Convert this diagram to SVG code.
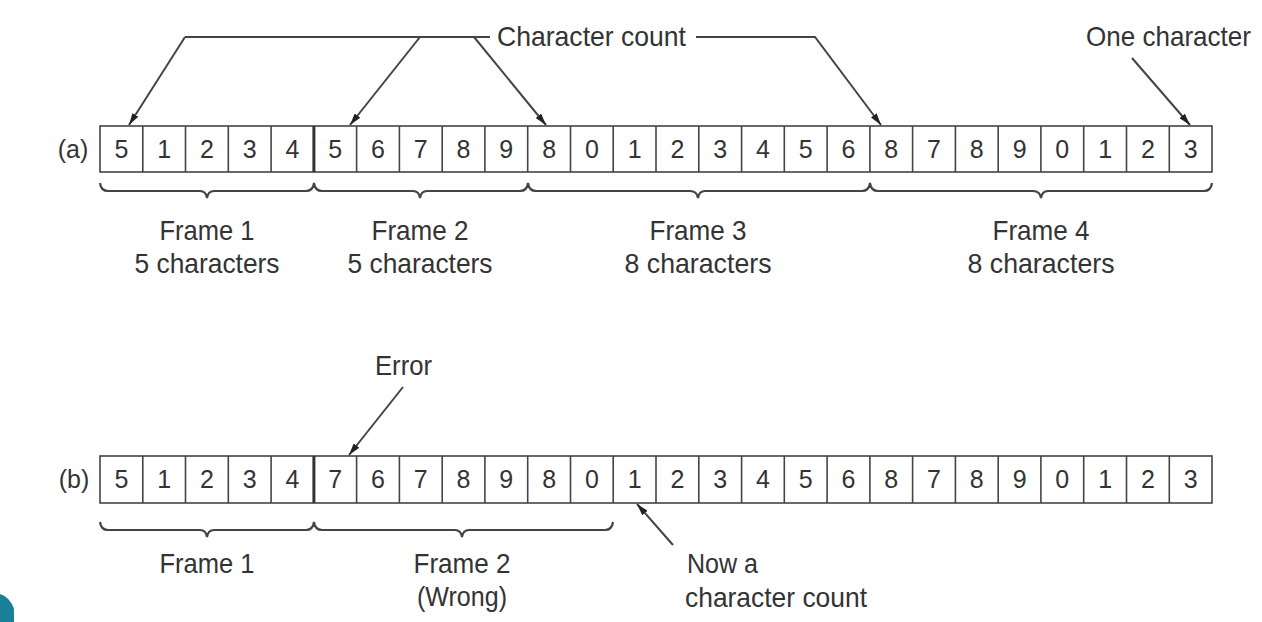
<svg xmlns="http://www.w3.org/2000/svg" width="1262" height="622" viewBox="0 0 1262 622">
<style>
.cell{fill:#fff;stroke:#444;stroke-width:1.6}
.sep{stroke:#444;stroke-width:1.6}
.thick{stroke:#333;stroke-width:3}
.dg{font-family:"Liberation Sans",Arial,sans-serif;font-size:25px;fill:#333;text-anchor:middle}
.lb{font-family:"Liberation Sans",Arial,sans-serif;font-size:28px;fill:#333}
.mid{text-anchor:middle}
.ln{fill:none;stroke:#444;stroke-width:2}
.br{fill:none;stroke:#444;stroke-width:2.2}
</style>
<defs>
<marker id="ah" markerUnits="userSpaceOnUse" markerWidth="13" markerHeight="7" refX="12" refY="3.5" orient="auto">
<path d="M0,0 L12,3.5 L0,7 Z" fill="#222"/>
</marker>
</defs>
<rect width="1262" height="622" fill="#fff"/>

<g id="row-a">
<text class="dg" x="73" y="158">(a)</text>
<rect class="cell" x="100" y="126" width="1112" height="46"/>
<g class="sep">
<line x1="142.8" y1="126" x2="142.8" y2="172"/><line x1="185.5" y1="126" x2="185.5" y2="172"/><line x1="228.3" y1="126" x2="228.3" y2="172"/><line x1="271.1" y1="126" x2="271.1" y2="172"/>
<line x1="356.6" y1="126" x2="356.6" y2="172"/><line x1="399.4" y1="126" x2="399.4" y2="172"/><line x1="442.2" y1="126" x2="442.2" y2="172"/><line x1="484.9" y1="126" x2="484.9" y2="172"/><line x1="527.7" y1="126" x2="527.7" y2="172"/>
<line x1="570.5" y1="126" x2="570.5" y2="172"/><line x1="613.2" y1="126" x2="613.2" y2="172"/><line x1="656" y1="126" x2="656" y2="172"/><line x1="698.8" y1="126" x2="698.8" y2="172"/><line x1="741.6" y1="126" x2="741.6" y2="172"/><line x1="784.3" y1="126" x2="784.3" y2="172"/><line x1="827.1" y1="126" x2="827.1" y2="172"/><line x1="869.9" y1="126" x2="869.9" y2="172"/>
<line x1="912.6" y1="126" x2="912.6" y2="172"/><line x1="955.4" y1="126" x2="955.4" y2="172"/><line x1="998.2" y1="126" x2="998.2" y2="172"/><line x1="1040.9" y1="126" x2="1040.9" y2="172"/><line x1="1083.7" y1="126" x2="1083.7" y2="172"/><line x1="1126.5" y1="126" x2="1126.5" y2="172"/><line x1="1169.3" y1="126" x2="1169.3" y2="172"/>
</g>
<line class="thick" x1="313.9" y1="126" x2="313.9" y2="172"/>
<g class="dg">
<text x="121.4" y="158">5</text><text x="164.2" y="158">1</text><text x="206.9" y="158">2</text><text x="249.7" y="158">3</text><text x="292.5" y="158">4</text>
<text x="335.2" y="158">5</text><text x="378" y="158">6</text><text x="420.8" y="158">7</text><text x="463.5" y="158">8</text><text x="506.3" y="158">9</text>
<text x="549.1" y="158">8</text><text x="591.9" y="158">0</text><text x="634.6" y="158">1</text><text x="677.4" y="158">2</text><text x="720.2" y="158">3</text><text x="762.9" y="158">4</text><text x="805.7" y="158">5</text><text x="848.5" y="158">6</text>
<text x="891.2" y="158">8</text><text x="934" y="158">7</text><text x="976.8" y="158">8</text><text x="1019.6" y="158">9</text><text x="1062.3" y="158">0</text><text x="1105.1" y="158">1</text><text x="1147.9" y="158">2</text><text x="1190.6" y="158">3</text>
</g>
</g>

<g id="braces-a" class="br">
<path d="M100,183 Q101,191 108,191 L200,191 Q206,191 207,198 Q208,191 214,191 L306,191 Q313,191 314,183 Q315,191 322,191 L413,191 Q419,191 420,198 Q421,191 427,191 L520,191 Q527,191 528,183 Q529,191 536,191 L690,191 Q697,191 698,198 Q699,191 705,191 L862,191 Q869,191 870,183 Q871,191 878,191 L1033,191 Q1040,191 1041,198 Q1042,191 1048,191 L1204,191 Q1211,191 1212,183"/>
</g>

<g id="frame1-a"><text class="lb mid" x="207" y="240" textLength="95" lengthAdjust="spacingAndGlyphs">Frame 1</text><text class="lb mid" x="207" y="273" textLength="145" lengthAdjust="spacingAndGlyphs">5 characters</text></g>
<g id="frame2-a"><text class="lb mid" x="420" y="240" textLength="97" lengthAdjust="spacingAndGlyphs">Frame 2</text><text class="lb mid" x="420" y="273" textLength="145" lengthAdjust="spacingAndGlyphs">5 characters</text></g>
<g id="frame3-a"><text class="lb mid" x="698" y="240" textLength="97" lengthAdjust="spacingAndGlyphs">Frame 3</text><text class="lb mid" x="698" y="273" textLength="147" lengthAdjust="spacingAndGlyphs">8 characters</text></g>
<g id="frame4-a"><text class="lb mid" x="1041" y="240" textLength="97" lengthAdjust="spacingAndGlyphs">Frame 4</text><text class="lb mid" x="1041" y="273" textLength="147" lengthAdjust="spacingAndGlyphs">8 characters</text></g>

<g id="label-character-count"><text class="lb" x="497" y="46" textLength="189" lengthAdjust="spacingAndGlyphs">Character count</text></g>
<g id="label-one-character"><text class="lb" x="1086" y="46" textLength="165" lengthAdjust="spacingAndGlyphs">One character</text></g>

<g id="row-b">
<text class="dg" x="74" y="488">(b)</text>
<rect class="cell" x="100" y="456" width="1112" height="47"/>
<g class="sep">
<line x1="142.8" y1="456" x2="142.8" y2="503"/><line x1="185.5" y1="456" x2="185.5" y2="503"/><line x1="228.3" y1="456" x2="228.3" y2="503"/><line x1="271.1" y1="456" x2="271.1" y2="503"/>
<line x1="356.6" y1="456" x2="356.6" y2="503"/><line x1="399.4" y1="456" x2="399.4" y2="503"/><line x1="442.2" y1="456" x2="442.2" y2="503"/><line x1="484.9" y1="456" x2="484.9" y2="503"/><line x1="527.7" y1="456" x2="527.7" y2="503"/>
<line x1="570.5" y1="456" x2="570.5" y2="503"/><line x1="613.2" y1="456" x2="613.2" y2="503"/><line x1="656" y1="456" x2="656" y2="503"/><line x1="698.8" y1="456" x2="698.8" y2="503"/><line x1="741.6" y1="456" x2="741.6" y2="503"/><line x1="784.3" y1="456" x2="784.3" y2="503"/><line x1="827.1" y1="456" x2="827.1" y2="503"/><line x1="869.9" y1="456" x2="869.9" y2="503"/>
<line x1="912.6" y1="456" x2="912.6" y2="503"/><line x1="955.4" y1="456" x2="955.4" y2="503"/><line x1="998.2" y1="456" x2="998.2" y2="503"/><line x1="1040.9" y1="456" x2="1040.9" y2="503"/><line x1="1083.7" y1="456" x2="1083.7" y2="503"/><line x1="1126.5" y1="456" x2="1126.5" y2="503"/><line x1="1169.3" y1="456" x2="1169.3" y2="503"/>
</g>
<line class="thick" x1="313.9" y1="456" x2="313.9" y2="503"/>
<g class="dg">
<text x="121.4" y="488">5</text><text x="164.2" y="488">1</text><text x="206.9" y="488">2</text><text x="249.7" y="488">3</text><text x="292.5" y="488">4</text>
<text x="335.2" y="488">7</text><text x="378" y="488">6</text><text x="420.8" y="488">7</text><text x="463.5" y="488">8</text><text x="506.3" y="488">9</text>
<text x="549.1" y="488">8</text><text x="591.9" y="488">0</text><text x="634.6" y="488">1</text><text x="677.4" y="488">2</text><text x="720.2" y="488">3</text><text x="762.9" y="488">4</text><text x="805.7" y="488">5</text><text x="848.5" y="488">6</text>
<text x="891.2" y="488">8</text><text x="934" y="488">7</text><text x="976.8" y="488">8</text><text x="1019.6" y="488">9</text><text x="1062.3" y="488">0</text><text x="1105.1" y="488">1</text><text x="1147.9" y="488">2</text><text x="1190.6" y="488">3</text>
</g>
</g>

<g id="braces-b" class="br">
<path d="M100,522 Q101,530 108,530 L200,530 Q206,530 207,537 Q208,530 214,530 L306,530 Q313,530 314,522 Q315,530 322,530 L455,530 Q461,530 462,537 Q463,530 469,530 L605,530 Q612,530 613,522"/>
</g>

<g id="frame1-b"><text class="lb mid" x="207" y="573" textLength="95" lengthAdjust="spacingAndGlyphs">Frame 1</text></g>
<g id="frame2-b"><text class="lb mid" x="462" y="573" textLength="97" lengthAdjust="spacingAndGlyphs">Frame 2</text><text class="lb mid" x="462" y="606" textLength="90" lengthAdjust="spacingAndGlyphs">(Wrong)</text></g>
<g id="label-error"><text class="lb" x="375" y="375" textLength="57" lengthAdjust="spacingAndGlyphs">Error</text></g>
<g id="label-now"><text class="lb" x="687" y="573" textLength="71" lengthAdjust="spacingAndGlyphs">Now a</text><text class="lb" x="685" y="607" textLength="182" lengthAdjust="spacingAndGlyphs">character count</text></g>

<g id="connectors">
<path class="ln" d="M185,37 L490,37"/>
<path class="ln" d="M185,37 L129,125" marker-end="url(#ah)"/>
<path class="ln" d="M420,37 L350,125" marker-end="url(#ah)"/>
<path class="ln" d="M474,37 L546,125" marker-end="url(#ah)"/>
<path class="ln" d="M696,37 L815,37 L881,125" marker-end="url(#ah)"/>
<path class="ln" d="M1132,58 L1190,125" marker-end="url(#ah)"/>
<path class="ln" d="M403,387 L349,455" marker-end="url(#ah)"/>
<path class="ln" d="M673,545 L637,504" marker-end="url(#ah)"/>
</g>

<path d="M0,594 Q10,597 14,609 L14,622 L0,622 Z" fill="#1a7f99"/>
</svg>
